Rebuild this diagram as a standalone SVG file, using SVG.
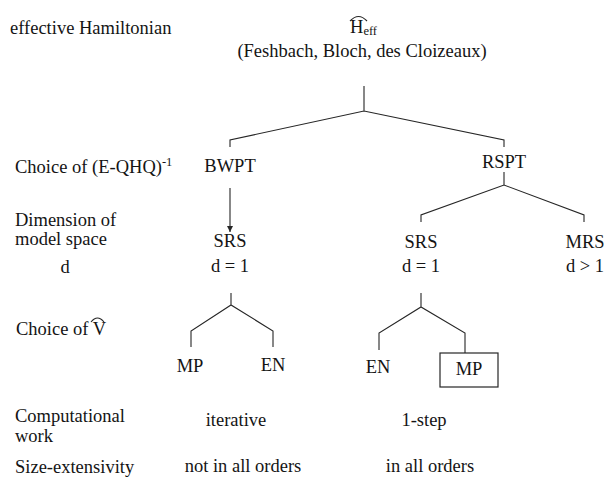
<svg xmlns="http://www.w3.org/2000/svg" width="606" height="480" viewBox="0 0 606 480">
<style>
text{font-family:"Liberation Serif","Times New Roman",serif;font-size:18.5px;fill:#141414}
.c{text-anchor:middle}
.sub{font-size:12.5px}
.ln{fill:none;stroke:#262626;stroke-width:1.1}
.box{fill:none;stroke:#262626;stroke-width:1.2}
</style>
<defs>
<marker id="ah" markerWidth="8" markerHeight="8" refX="6" refY="3" orient="auto" markerUnits="userSpaceOnUse">
<path d="M0,0 L6,3 L0,6 Z" fill="#262626"/>
</marker>
</defs>
<rect width="606" height="480" fill="#fff"/>
<g id="row-labels">
<text x="10" y="34">effective Hamiltonian</text>
<text x="15" y="173">Choice of (E-QHQ)<tspan class="sub" dy="-7">-1</tspan></text>
<text x="15" y="226">Dimension of</text>
<text x="15" y="245">model space</text>
<text x="65" y="273" class="c">d</text>
<text x="16" y="335">Choice of V</text>
<path class="ln" d="M91,322 Q97.5,314 104,322"/>
<text x="15" y="422">Computational</text>
<text x="15" y="442">work</text>
<text x="15" y="473">Size-extensivity</text>
</g>
<g id="heff">
<text x="350" y="33">H<tspan class="sub" dy="2">eff</tspan></text>
<path class="ln" d="M350,21 Q358.5,12 367,21"/>
<text x="362" y="57" class="c">(Feshbach, Bloch, des Cloizeaux)</text>
</g>
<g id="bwpt"><text x="230" y="172" class="c">BWPT</text></g>
<g id="rspt"><text x="504" y="168" class="c">RSPT</text></g>
<g id="srs1"><text x="230" y="247" class="c">SRS</text><text x="230" y="272" class="c">d = 1</text></g>
<g id="srs2"><text x="421" y="248" class="c">SRS</text><text x="421" y="272" class="c">d = 1</text></g>
<g id="mrs"><text x="585" y="248" class="c">MRS</text><text x="585" y="272" class="c">d &gt; 1</text></g>
<g id="mp1"><text x="190" y="372" class="c">MP</text></g>
<g id="en1"><text x="273" y="371" class="c">EN</text></g>
<g id="en2"><text x="378" y="373" class="c">EN</text></g>
<g id="mp2"><rect class="box" x="440" y="353" width="58" height="34"/><text x="469" y="375" class="c">MP</text></g>
<g id="work"><text x="236" y="426" class="c">iterative</text><text x="424" y="426" class="c">1-step</text></g>
<g id="size"><text x="243" y="472" class="c">not in all orders</text><text x="430" y="472" class="c">in all orders</text></g>
<g id="connectors">
<path class="ln" d="M364,86 V111 M230,147 V140 L364,111 L504,140 V147"/>
<path class="ln" d="M230,188 V232" marker-end="url(#ah)"/>
<path class="ln" d="M504,172 V185 M421,222 V215 L504,185 L584,215 V222"/>
<path class="ln" d="M231,293 V305 M191,347 V331 L231,305 L273,331 V347"/>
<path class="ln" d="M421,293 V307 M379,350 V333 L421,307 L465,333 V353"/>
</g>
</svg>
